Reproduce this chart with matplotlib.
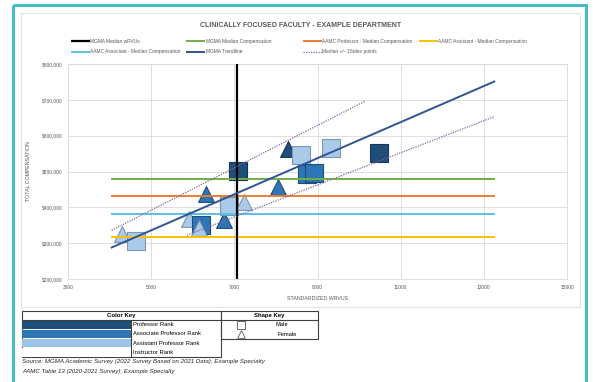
"""Clinically focused faculty scatter: wRVUs vs total compensation."""

import matplotlib
matplotlib.use("Agg")
import matplotlib.pyplot as plt
from matplotlib.patches import Rectangle
from matplotlib.ticker import FuncFormatter

plt.rcParams['font.family'] = ['Liberation Sans', 'DejaVu Sans']

## Faculty points
wrvu = [4290, 4640, 5900, 6210, 6160, 6320, 6760, 6880, 7090, 7230,
        8050, 8280, 8600, 8750, 8910, 9320, 10490]
comp = [325000, 306000, 368000, 352000, 342000, 438000, 366000, 403000,
        501000, 416000, 458000, 563000, 547000, 492000, 497000, 565000, 552000]
gender = ['F', 'M', 'F', 'M', 'F', 'F', 'F', 'M', 'M', 'F',
          'F', 'F', 'M', 'M', 'M', 'M', 'M']
rank = ['Asst', 'Asst', 'Asst', 'Assoc', 'Asst', 'Assoc', 'Assoc', 'Asst', 'Prof', 'Asst',
        'Assoc', 'Prof', 'Asst', 'Assoc', 'Assoc', 'Asst', 'Prof']

## Benchmarks
median_wrvu = 7070
line_x = [4050, 13250]
mgma_median_comp = 478000
aamc_prof_comp = 432000
aamc_assoc_comp = 382000
aamc_asst_comp = 318000
trend_x = [4050, 13250]
trend_y = [288000, 751000]
upper_x = [4050, 10140]
upper_y = [336000, 696000]
lower_x = [5860, 13250]
lower_y = [322000, 653000]

xticks = [3000, 5000, 7000, 9000, 11000, 13000, 15000]
yticks = [200000, 300000, 400000, 500000, 600000, 700000, 800000]

rank_fill = {'Prof': '#1f4e79', 'Assoc': '#2e75b6', 'Asst': '#a9cbe9'}
rank_edge = {'Prof': '#17365d', 'Assoc': '#1f4e79', 'Asst': '#7f97ad'}
txt = '#595959'

W, H = 593, 382
fig = plt.figure(figsize=(W / 100, H / 100), dpi=100)

## Overlay in pixel coords for border, legend and key tables
ov = fig.add_axes([0, 0, 1, 1], zorder=0)
ov.set_xlim(0, W)
ov.set_ylim(H, 0)
ov.axis('off')
ov.add_patch(Rectangle((13, 5), 573, 400, fill=False, ec='#45bcc8', lw=2.2))
ov.add_patch(Rectangle((21, 13), 559, 294, fill=False, ec='#e3e3e3', lw=0.8))

ov.text(301, 25.5, 'CLINICALLY FOCUSED FACULTY - EXAMPLE DEPARTMENT', ha='center',
        va='center', fontsize=5, fontweight='bold', color=txt)

legend_items = [
    (71, 41.3, 'MGMA Median wRVUs', dict(color='black', lw=1.6)),
    (186, 41.3, 'MGMA Median Compensation', dict(color='#70ad47', lw=1.4)),
    (303, 41.3, 'AAMC Professor - Median Compensation', dict(color='#ed7d31', lw=1.4)),
    (419, 41.3, 'AAMC Assistant - Median Compensation', dict(color='#ffc000', lw=1.4)),
    (71, 51.7, 'AAMC Associate - Median Compensation', dict(color='#5bc0eb', lw=1.4)),
    (186, 51.7, 'MGMA Trendline', dict(color='#2f5597', lw=1.4)),
    (303, 51.7, 'Median +/- 1Stdev points', dict(color='#8064a2', lw=0.9, ls=(0, (1, 1)))),
]
for x0, y0, label, style in legend_items:
    ov.plot([x0, x0 + 19], [y0, y0], solid_capstyle='butt', **style)
    ov.text(x0 + 19.5, y0, label, ha='left', va='center', fontsize=3.5, color=txt)

## Color key table
ov.add_patch(Rectangle((21.5, 311), 199, 46, fill=False, ec='#404040', lw=0.8))
ov.plot([21.5, 220.5], [320, 320], color='#404040', lw=0.8)
ov.plot([131, 131], [320, 357], color='#404040', lw=0.8)
ov.text(121, 315.5, 'Color Key', ha='center', va='center', fontsize=4.3,
        fontweight='semibold', color='black')
key_rows = [('Professor Rank', '#1f4e79'), ('Associate Professor Rank', '#2e75b6'),
            ('Assistant Professor Rank', '#9dc3e6'), ('Instructor Rank', 'white')]
for i, (label, col) in enumerate(key_rows):
    y0 = 320 + i * 9.25
    ov.add_patch(Rectangle((22, y0 + 0.4), 108.5, 8.5, fc=col, ec='none'))
    ov.text(133, y0 + 4.6, label, ha='left', va='center', fontsize=4.2, color='black')

## Shape key table
ov.add_patch(Rectangle((220.5, 311), 97.5, 28, fill=False, ec='#404040', lw=0.8))
ov.plot([220.5, 318], [320, 320], color='#404040', lw=0.8)
ov.text(269, 315.5, 'Shape Key', ha='center', va='center', fontsize=4.3,
        fontweight='semibold', color='black')
ov.scatter([241], [324.5], marker='s', s=30, fc='white', ec='#555555', lw=0.6)
ov.scatter([241], [334], marker='^', s=30, fc='white', ec='#555555', lw=0.6)
ov.text(276, 324.5, 'Male', ha='left', va='center', fontsize=4.2, color='black')
ov.text(277, 334, 'Female', ha='left', va='center', fontsize=4.2, color='black')

ov.text(22, 362, 'Source: MGMA Academic Survey (2022 Survey Based on 2021 Data); Example Specialty',
        ha='left', va='center', fontsize=4.4, style='italic', color='#262626')
ov.text(22, 372, 'AAMC Table 13 (2020-2021 Survey); Example Specialty',
        ha='left', va='center', fontsize=4.4, style='italic', color='#262626')

## Main plot
ax = fig.add_axes([68 / W, 1 - 279 / H, (567 - 68) / W, (279 - 64) / H], zorder=1)
ax.set_xlim(3000, 15000)
ax.set_ylim(200000, 800000)
ax.set_xticks(xticks)
ax.set_yticks(yticks)
ax.yaxis.set_major_formatter(FuncFormatter(lambda v, p: '${:,.0f}'.format(v)))
ax.grid(True, color='#d9d9d9', lw=0.6)
ax.set_axisbelow(True)
for s in ax.spines.values():
    s.set_color('#d9d9d9')
    s.set_linewidth(0.6)
ax.tick_params(length=0, labelsize=3.5, labelcolor=txt, pad=4)
ax.set_xlabel('STANDARDIZED WRVUS', fontsize=3.8, color=txt, labelpad=5)
ax.set_ylabel('TOTAL COMPENSATION', fontsize=3.8, color=txt, labelpad=8)

for x, y, g, r in zip(wrvu, comp, gender, rank):
    mk = 's' if g == 'M' else '^'
    size = 150 if g == 'M' else 130
    ax.scatter([x], [y], marker=mk, s=size, fc=rank_fill[r], ec=rank_edge[r],
               lw=0.8, zorder=2)

ax.plot(line_x, [mgma_median_comp] * 2, color='#70ad47', lw=1.4, zorder=3)
ax.plot(line_x, [aamc_prof_comp] * 2, color='#ed7d31', lw=1.4, zorder=3)
ax.plot(line_x, [aamc_assoc_comp] * 2, color='#5bc0eb', lw=1.4, zorder=3)
ax.plot(line_x, [aamc_asst_comp] * 2, color='#ffc000', lw=1.4, zorder=3)
ax.plot([median_wrvu, median_wrvu], [200000, 800000], color='black', lw=1.6, zorder=3)
ax.plot(trend_x, trend_y, color='#2f5597', lw=1.4, zorder=4)
ax.plot(upper_x, upper_y, color='#8064a2', lw=0.9, ls=(0, (1, 1)), zorder=4)
ax.plot(lower_x, lower_y, color='#8064a2', lw=0.9, ls=(0, (1, 1)), zorder=4)

fig.savefig('out.png', dpi=100)
